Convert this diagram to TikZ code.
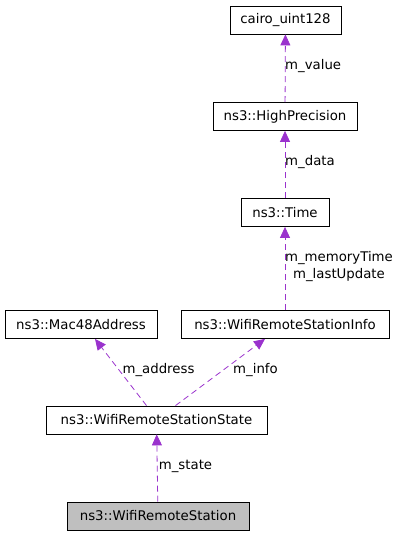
\documentclass[tikz,border=0pt]{standalone}
\usepackage{fontspec}
\setmainfont{DejaVu Sans}
\usetikzlibrary{arrows.meta}
\definecolor{edgepurple}{HTML}{9A32CD}
\definecolor{boxgray}{HTML}{BFBFBF}
\tikzset{
  classbox/.style = {draw, thick, inner sep = 0pt, minimum height = 28pt, font = \fontsize{13.3}{16}\selectfont},
  member/.style = {edgepurple, thick, dash pattern = on 6pt off 4pt, -{Triangle[length = 11pt, width = 10pt]}},
  memlabel/.style = {inner sep = 0pt, font = \fontsize{13.3}{17}\selectfont}
}
\begin{document}
\begin{tikzpicture}[x = 1pt, y = -1pt]
  \useasboundingbox (0, 0) rectangle (400, 536);
  \node [classbox, minimum width = 111pt] (cairo) at (285.5, 20) {cairo\_uint128};
  \node [classbox, minimum width = 144pt] (hp) at (285, 116.5) {ns3::HighPrecision};
  \node [classbox, minimum width = 88pt] (time) at (285, 212.5) {ns3::Time};
  \node [classbox, minimum width = 152pt] (mac) at (81, 324.5) {ns3::Mac48Address};
  \node [classbox, minimum width = 208pt] (info) at (285, 324.5) {ns3::WifiRemoteStationInfo};
  \node [classbox, minimum width = 221pt] (state) at (156.5, 420) {ns3::WifiRemoteStationState};
  \node [classbox, minimum width = 182pt, fill = boxgray] (station) at (158, 516) {ns3::WifiRemoteStation};
  % members
  \draw [member] (hp) -- (cairo);
  \draw [member] (time) -- (hp);
  \draw [member] (info) -- (time);
  \draw [member] ([xshift = -10pt]state.north) -- ([xshift = 14pt]mac.south);
  \draw [member] ([xshift = 19pt]state.north) -- ([xshift = -20pt]info.south);
  \draw [member] (station) -- (state);
  \node [memlabel, anchor = west] (lvalue) at (285, 66) {m\_value};
  \node [memlabel, anchor = west] (ldata) at (285, 162) {m\_data};
  \node [memlabel, align = center] (ltime) at (339, 266.5) {m\_memoryTime\\m\_lastUpdate};
  \node [memlabel] (laddress) at (158.5, 370) {m\_address};
  \node [memlabel] (linfo) at (255.5, 370) {m\_info};
  \node [memlabel] (lstate) at (185.5, 466) {m\_state};
\end{tikzpicture}
\end{document}
